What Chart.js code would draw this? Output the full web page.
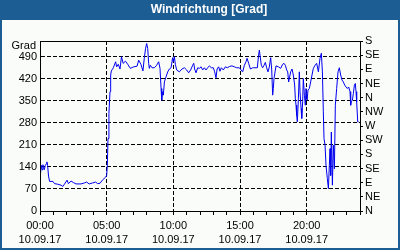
<!DOCTYPE html>
<html>
<head>
<meta charset="utf-8">
<script src="https://cdn.jsdelivr.net/npm/chart.js@4"></script>
<style>
    html, body { margin: 0; padding: 0; background: #ffffff; }
    #wrap { width: 400px; height: 250px; position: relative; }
</style>
</head>
<body>
<div id="wrap"><canvas id="windChart" width="400" height="250"></canvas></div>
<script>
// Zeit in Stunden (10.09.17) und Windrichtung in Grad
const hours = [
    0.0, 0.1, 0.15, 0.22, 0.32, 0.4, 0.47, 0.52, 0.57, 0.64, 0.72, 0.97, 1.09, 1.34, 1.58, 1.71, 1.83,
    2.03, 2.13, 2.33, 2.52, 2.7, 3.07, 3.32, 3.49, 3.69, 3.94, 4.18, 4.31, 4.5, 4.68, 4.93, 5.0,
    5.05, 5.1, 5.17, 5.25, 5.3, 5.35, 5.5, 5.67, 5.75, 5.87, 6.0, 6.11, 6.24, 6.41, 6.58, 6.78,
    7.03, 7.28, 7.4, 7.57, 7.72, 7.82, 7.92,
    8.0, 8.08, 8.15, 8.2, 8.28, 8.4, 8.58, 8.75, 8.9, 9.0, 9.08, 9.13, 9.2, 9.25, 9.33, 9.45,
    9.58, 9.7, 9.83, 9.95, 10.0, 10.08, 10.15, 10.25, 10.45, 10.65, 10.83, 11.0, 11.15, 11.3,
    11.45, 11.53, 11.6, 11.7, 11.83, 11.95, 12.08, 12.2, 12.33, 12.45, 12.58, 12.7, 12.85, 13.0,
    13.1, 13.2, 13.28, 13.4, 13.5, 13.6, 13.75, 13.9, 14.05, 14.2, 14.4, 14.58, 14.75, 14.95,
    15.08, 15.2, 15.33, 15.45, 15.53, 15.65, 15.78, 15.95, 16.0, 16.3,
    16.38, 16.45, 16.5, 16.6, 16.7, 16.8, 16.9, 17.0, 17.1, 17.2, 17.3, 17.38, 17.45, 17.5,
    17.55, 17.63, 17.7, 17.88, 18.05, 18.2, 18.3, 18.4, 18.5, 18.58, 18.65, 18.7, 18.8, 18.9,
    19.0, 19.1, 19.15, 19.2, 19.25, 19.3, 19.38, 19.45, 19.5, 19.58, 19.63, 19.7, 19.75, 19.83,
    19.9, 19.95, 20.03, 20.1, 20.2, 20.3, 20.4, 20.5, 20.63, 20.75, 20.88, 21.0, 21.1, 21.18,
    21.25, 21.3, 21.38, 21.45, 21.55, 21.63, 21.7, 21.75, 21.8, 21.85, 21.93, 22.0, 22.08, 22.15,
    22.25, 22.35, 22.45, 22.55, 22.65, 22.75, 22.85, 22.95, 23.05, 23.15, 23.25, 23.3, 23.35,
    23.43, 23.5, 23.58, 23.65, 23.7, 23.75, 23.83, 23.9
];
const directions = [
    103, 145, 131, 147, 131, 145, 150, 156, 145, 111, 94, 94, 87, 85, 82, 78, 85,
    98, 87, 95, 90, 86, 86, 89, 92, 86, 89, 92, 87, 88, 98, 108, 113,
    145, 230, 310, 379, 432, 445, 455, 474, 458, 466, 451, 490, 469, 476, 466, 453,
    458, 460, 479, 466, 445, 485, 517,
    532, 516, 469, 453, 463, 455, 455, 463, 474, 453, 389, 352, 379, 368, 410, 426,
    442, 451, 455, 487, 474, 490, 466, 448, 442, 451, 455, 448, 439, 448,
    463, 469, 451, 439, 455, 453, 458, 448, 455, 448, 455, 461, 455, 455,
    442, 423, 451, 458, 444, 455, 448, 458, 455, 459, 461, 458, 455, 455,
    448, 442, 463, 474, 485, 469, 451, 455, 455, 455,
    490, 511, 495, 463, 455, 463, 472, 455, 442, 458, 487, 448, 368, 389,
    421, 442, 461, 458, 453, 466, 469, 463, 448, 442, 410, 421, 442, 451,
    432, 400, 358, 336, 304, 283, 358, 442, 379, 326, 294, 347, 421, 368,
    336, 389, 352, 384, 389, 410, 432, 453, 463, 469, 442, 485, 501, 442,
    315, 230, 209, 145, 103, 71, 145, 198, 113, 251, 82, 209, 134, 336,
    389, 442, 455, 432, 416, 410, 400, 394, 389, 394, 379, 336, 347,
    352, 373, 400, 405, 379, 347, 283, 283
];

// Achsenbeschriftungen
const compassLabels = ['N', 'NE', 'E', 'SE', 'S', 'SW', 'W', 'NW', 'N', 'NE', 'E', 'SE', 'S'];
const timeLabels = { 0: '00:00', 5: '05:00', 10: '10:00', 15: '15:00', 20: '20:00' };
const dateLabel = '10.09.17';
const titleText = 'Windrichtung [Grad]';
const unitText = 'Grad';

const frameBlue = 'rgb(28, 94, 148)';
const panelColor = 'rgb(250, 252, 250)';
const fontFamily = '"Liberation Sans", Arial, sans-serif';

// Rahmen, Titelleiste und Hintergrund
const framePlugin = {
    id: 'frame',
    beforeDraw(chart) {
        const ctx = chart.ctx;
        ctx.save();
        ctx.fillStyle = frameBlue;
        ctx.fillRect(0, 0, chart.width, chart.height);
        ctx.fillStyle = panelColor;
        ctx.fillRect(2, 20, chart.width - 4, chart.height - 22);
        ctx.font = 'bold 12px ' + fontFamily;
        ctx.fillStyle = '#ffffff';
        ctx.textAlign = 'center';
        ctx.textBaseline = 'middle';
        ctx.fillText(titleText, 209, 10);
        ctx.restore();
    },
    afterDraw(chart) {
        const ctx = chart.ctx;
        const a = chart.chartArea;
        ctx.save();
        ctx.strokeStyle = '#000000';
        ctx.lineWidth = 1;
        ctx.strokeRect(Math.round(a.left) + 0.5, Math.round(a.top) + 0.5,
            Math.round(a.right - a.left), Math.round(a.bottom - a.top));
        ctx.font = '11px ' + fontFamily;
        ctx.fillStyle = '#000000';
        ctx.textAlign = 'right';
        ctx.textBaseline = 'middle';
        ctx.fillText(unitText, a.left - 4, a.top + 5);
        ctx.restore();
    }
};

const points = hours.map((h, i) => ({ x: h, y: directions[i] }));

new Chart(document.getElementById('windChart'), {
    type: 'line',
    data: {
        datasets: [{
            data: points,
            borderColor: 'rgb(0, 0, 240)',
            borderWidth: 1,
            pointRadius: 0,
            tension: 0,
            fill: false
        }]
    },
    options: {
        responsive: false,
        animation: false,
        layout: { padding: { top: 41, left: 0, right: 0, bottom: 0 } },
        plugins: {
            legend: { display: false },
            title: { display: false },
            tooltip: { enabled: false }
        },
        scales: {
            x: {
                type: 'linear',
                min: 0,
                max: 24,
                afterFit: (scale) => { scale.height = 39; },
                border: { display: true, color: '#000000', width: 1, dash: [4, 2] },
                grid: {
                    color: (c) => (c.tick && c.tick.value % 5 === 0 && c.tick.value > 0) ? '#000000' : 'rgba(0,0,0,0)',
                    tickColor: '#000000',
                    tickLength: 4,
                    drawTicks: true
                },
                ticks: {
                    stepSize: 1,
                    autoSkip: false,
                    maxRotation: 0,
                    minRotation: 0,
                    padding: 4,
                    color: '#000000',
                    font: { family: fontFamily, size: 11, lineHeight: 1.27 },
                    callback: (v) => timeLabels[v] !== undefined ? [timeLabels[v], dateLabel] : ''
                }
            },
            y: {
                position: 'left',
                min: 0,
                max: 540,
                afterFit: (scale) => { scale.width = 40; },
                border: { display: true, color: '#000000', width: 1, dash: [4, 2] },
                grid: {
                    color: (c) => (c.tick && c.tick.value > 0 && c.tick.value < 540) ? '#000000' : 'rgba(0,0,0,0)',
                    drawTicks: false
                },
                ticks: {
                    stepSize: 70,
                    autoSkip: false,
                    padding: 3,
                    color: '#000000',
                    font: { family: fontFamily, size: 11 },
                    callback: (v) => v >= 540 ? '' : v
                }
            },
            compass: {
                position: 'right',
                min: 0,
                max: 540,
                afterFit: (scale) => { scale.width = 40; },
                border: { display: true, color: '#000000', width: 1 },
                grid: {
                    drawOnChartArea: false,
                    drawTicks: true,
                    tickLength: 3,
                    tickColor: '#000000'
                },
                ticks: {
                    stepSize: 45,
                    autoSkip: false,
                    padding: 2,
                    color: '#000000',
                    font: { family: fontFamily, size: 11 },
                    callback: (v) => compassLabels[Math.round(v / 45)]
                }
            }
        }
    },
    plugins: [framePlugin]
});
</script>
</body>
</html>
